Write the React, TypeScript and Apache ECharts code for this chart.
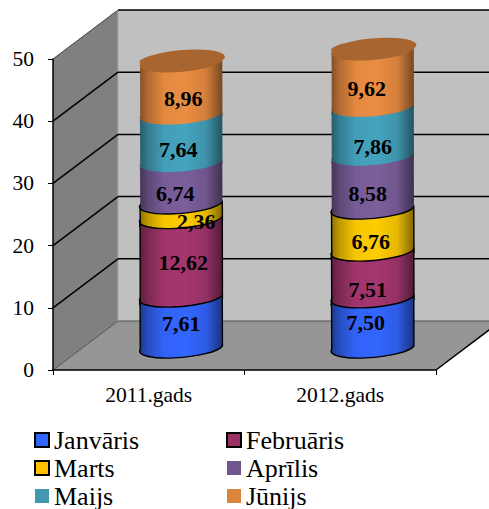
import React, { useEffect, useRef } from "react";
import * as echarts from "echarts";

const categories = ["2011.gads", "2012.gads"];
const yTicks = [0, 10, 20, 30, 40, 50];
const months = ["Janvāris", "Februāris", "Marts", "Aprīlis", "Maijs", "Jūnijs"];
const janvaris = [7.61, 7.5];
const februaris = [12.62, 7.51];
const marts = [2.36, 6.76];
const aprilis = [6.74, 8.58];
const maijs = [7.64, 7.86];
const junijs = [8.96, 9.62];
const monthValues = [janvaris, februaris, marts, aprilis, maijs, junijs];

const bodyColors = ["#3366FF", "#A5366F", "#FFCC00", "#7B5F9C", "#45A3BE", "#EA8D42"];
const legendColors = ["#3366FF", "#993366", "#FFC000", "#6F5690", "#4198AF", "#DB843D"];
const borderWidths = [1.4, 1.4, 1.4, 0, 0, 0];
const topColor = "#A9652F";

// Hand placement of the data labels, as in the reference: [dx, dy] from the middle of a segment.
const labelNudges = [
  [[0, 2], [-7, 0]],
  [[2, 4], [-5, 14]],
  [[15, 9], [-2, 10]],
  [[-6, 9], [-5, 10]],
  [[-3, 10], [0, 14]],
  [[2, 11], [-6, 11]],
];

const FONT = '"Liberation Serif", "Times New Roman", serif';
const DEPTH_X = 65;
const DEPTH_Y = -49;
const CYL_OFFSET_Y = -24;
const RX = 41.2;
const RY = 9.5;
const TILT = 5;

function shade(hex: string, f: number) {
  const n = parseInt(hex.slice(1), 16);
  const c = [(n >> 16) & 255, (n >> 8) & 255, n & 255].map((v) => Math.round(v * f));
  return `rgb(${c[0]},${c[1]},${c[2]})`;
}

function cylinderFill(hex: string) {
  return new echarts.graphic.LinearGradient(0, 0, 1, 0, [
    { offset: 0, color: shade(hex, 0.55) },
    { offset: 0.1, color: shade(hex, 0.75) },
    { offset: 0.3, color: shade(hex, 0.97) },
    { offset: 0.55, color: shade(hex, 1) },
    { offset: 0.8, color: shade(hex, 0.9) },
    { offset: 1, color: shade(hex, 0.5) },
  ]);
}

function edges(cx: number, cy: number) {
  const t = (TILT * Math.PI) / 180;
  const dx = RX * Math.cos(t);
  const dy = RX * Math.sin(t);
  return { lx: cx - dx, ly: cy + dy, rx: cx + dx, ry: cy - dy };
}

function segmentPath(cx: number, yLow: number, yHigh: number) {
  const a = edges(cx, yLow);
  const b = edges(cx, yHigh);
  return (
    `M${a.lx} ${a.ly}A${RX} ${RY} ${-TILT} 0 0 ${a.rx} ${a.ry}` +
    `L${b.rx} ${b.ry}A${RX} ${RY} ${-TILT} 0 1 ${b.lx} ${b.ly}Z`
  );
}

function ellipsePath(cx: number, cy: number) {
  const a = edges(cx, cy);
  return (
    `M${a.lx} ${a.ly}A${RX} ${RY} ${-TILT} 0 0 ${a.rx} ${a.ry}` +
    `A${RX} ${RY} ${-TILT} 0 0 ${a.lx} ${a.ly}Z`
  );
}

function renderWalls(params: any, api: any) {
  const g = params.coordSys;
  const left = g.x;
  const right = g.x + g.width;
  const y0 = api.coord([0, 0])[1];
  const y50 = api.coord([0, 50])[1];
  const bx = left + DEPTH_X;
  const children: any[] = [
    {
      type: "polygon",
      shape: { points: [[bx, y50 + DEPTH_Y], [right + DEPTH_X, y50 + DEPTH_Y], [right + DEPTH_X, y0 + DEPTH_Y], [bx, y0 + DEPTH_Y]] },
      style: { fill: "#C0C0C0" },
    },
    {
      type: "polygon",
      shape: { points: [[left, y50], [bx, y50 + DEPTH_Y], [bx, y0 + DEPTH_Y], [left, y0]] },
      style: { fill: "#808080" },
    },
    {
      type: "polygon",
      shape: { points: [[left, y0], [right, y0], [right + DEPTH_X, y0 + DEPTH_Y], [bx, y0 + DEPTH_Y]] },
      style: { fill: "#969696" },
    },
    {
      type: "line",
      shape: { x1: left, y1: y50, x2: bx, y2: y50 + DEPTH_Y },
      style: { stroke: "#404040", lineWidth: 1 },
    },
    {
      type: "line",
      shape: { x1: left, y1: y0, x2: bx, y2: y0 + DEPTH_Y },
      style: { stroke: "#505050", lineWidth: 1 },
    },
    {
      type: "line",
      shape: { x1: bx, y1: y0 + DEPTH_Y, x2: right + DEPTH_X, y2: y0 + DEPTH_Y },
      style: { stroke: "#505050", lineWidth: 1 },
    },
    {
      type: "line",
      shape: { x1: bx, y1: y50 + DEPTH_Y, x2: bx, y2: y0 + DEPTH_Y },
      style: { stroke: "#A8A8A8", lineWidth: 1 },
    },
    {
      type: "line",
      shape: { x1: right, y1: y0, x2: right + DEPTH_X, y2: y0 + DEPTH_Y },
      style: { stroke: "#000", lineWidth: 1.5 },
    },
  ];
  yTicks.forEach((t) => {
    if (t === 0) return;
    const y = api.coord([0, t])[1];
    children.push({
      type: "line",
      shape: { x1: bx, y1: y + DEPTH_Y, x2: right + DEPTH_X, y2: y + DEPTH_Y },
      style: { stroke: "#000", lineWidth: 1.5 },
    });
    if (t !== 50) {
      children.push({
        type: "line",
        shape: { x1: left, y1: y, x2: bx, y2: y + DEPTH_Y },
        style: { stroke: "#000", lineWidth: 1.5 },
      });
    }
  });
  return { type: "group", children };
}

function cylinderSeries(i: number) {
  const isTop = i === months.length - 1;
  const data = categories.map((_, c) => {
    let start = 0;
    for (let k = 0; k < i; k++) start += monthValues[k][c];
    return [c, start, start + monthValues[i][c], monthValues[i][c]];
  });
  return {
    type: "custom",
    name: months[i],
    data,
    encode: { x: 0, y: 2 },
    renderItem: (params: any, api: any) => {
      const c = api.value(0);
      const p0 = api.coord([c, api.value(1)]);
      const p1 = api.coord([c, api.value(2)]);
      const cx = p0[0] + DEPTH_X / 2;
      const yLow = p0[1] + CYL_OFFSET_Y;
      const yHigh = p1[1] + CYL_OFFSET_Y;
      const nudge = labelNudges[i][c];
      const children: any[] = [
        {
          type: "path",
          z2: 20 - i,
          shape: { pathData: segmentPath(cx, yLow, yHigh) },
          style: {
            fill: cylinderFill(bodyColors[i]),
            stroke: borderWidths[i] ? "#000" : null,
            lineWidth: borderWidths[i],
          },
        },
        {
          type: "text",
          z2: 100,
          style: {
            text: api.value(3).toFixed(2).replace(".", ","),
            x: cx + nudge[0],
            y: (yLow + yHigh) / 2 + nudge[1] - 0.5,
            align: "center",
            verticalAlign: "middle",
            fill: "#000",
            font: `bold 22px ${FONT}`,
          },
        },
      ];
      if (isTop) {
        children.push({
          type: "path",
          z2: 30,
          shape: { pathData: ellipsePath(cx, yHigh) },
          style: { fill: topColor },
        });
      }
      return { type: "group", children };
    },
  };
}

function legendBlock(idx: number[], left: number) {
  return {
    orient: "vertical",
    left,
    top: 427,
    height: 90,
    padding: 0,
    itemGap: 2,
    itemWidth: 14,
    itemHeight: 14,
    selectedMode: false,
    textStyle: { fontFamily: FONT, fontSize: 26, color: "#000", lineHeight: 24, height: 24 },
    data: idx.map((i) => ({
      name: months[i],
      icon: "rect",
      itemStyle: {
        color: legendColors[i],
        borderColor: borderWidths[i] ? "#000" : legendColors[i],
        borderWidth: borderWidths[i] ? 2 : 0,
      },
    })),
  };
}

export default function App() {
  const ref = useRef<HTMLDivElement>(null);
  useEffect(() => {
    document.body.style.margin = "0";
    const chart = echarts.init(ref.current!, null, { renderer: "svg" });
    chart.setOption({
      animation: false,
      backgroundColor: "#fff",
      grid: { left: 53, right: 53, top: 59, bottom: 139 },
      legend: [legendBlock([0, 2, 4], 34), legendBlock([1, 3, 5], 226)],
      xAxis: {
        type: "category",
        data: categories,
        z: 10,
        axisLine: { lineStyle: { color: "#000", width: 1.5 } },
        axisTick: { show: true, length: 5, lineStyle: { color: "#000", width: 1 } },
        axisLabel: { fontFamily: FONT, fontSize: 21.5, color: "#000", margin: 14 },
        splitLine: { show: false },
      },
      yAxis: {
        type: "value",
        min: 0,
        max: 50,
        interval: 10,
        z: 10,
        axisLine: { show: true, lineStyle: { color: "#000", width: 1.5 } },
        axisTick: { show: true, length: 5, lineStyle: { color: "#000", width: 1 } },
        axisLabel: { fontFamily: FONT, fontSize: 21.5, color: "#000", margin: 19 },
        splitLine: { show: false },
      },
      series: [
        {
          type: "custom",
          name: "walls",
          data: [[0, 0]],
          encode: { x: 0, y: 1 },
          renderItem: renderWalls,
          silent: true,
        },
        ...months.map((_, i) => cylinderSeries(i)),
      ],
    });
    return () => chart.dispose();
  }, []);
  return <div ref={ref} style={{ position: "absolute", left: 0, top: 0, width: 489, height: 509 }} />;
}
